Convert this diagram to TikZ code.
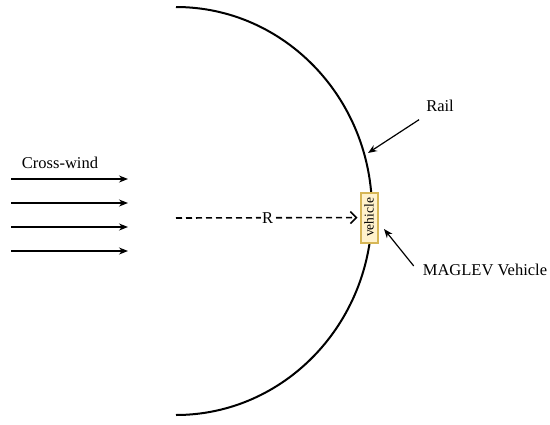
\documentclass[tikz,border=0pt]{standalone}
\usepackage{fontspec}
\setmainfont{Liberation Serif}
\usetikzlibrary{arrows.meta}
\definecolor{vehfill}{HTML}{FFF2CC}
\definecolor{vehdraw}{HTML}{D6B656}

\begin{document}
\begin{tikzpicture}[x=1pt,y=-1pt,
		lbl/.style={font=\fontsize{16.5}{19}\selectfont,inner sep=0pt},
		wind/.style={line width=1.3pt,-{Stealth[length=9pt,width=7pt]}},
		pointer/.style={line width=1.2pt,-{Stealth[length=9pt,width=7pt]}},
		vehicle/.style={draw=vehdraw,fill=vehfill,line width=2pt,inner sep=0pt,
			minimum width=50pt,minimum height=17pt,font=\fontsize{13.5}{15}\selectfont}]
			\useasboundingbox (0,0) rectangle (550,424);
			% rail
			\draw[line width=2pt] (176,7) arc[start angle=90,end angle=-90,x radius=196pt,y radius=204pt];
			% cross wind
			\node[lbl] (windlbl) at (60,163) {Cross-wind};
			\foreach \i/\y in {1/179,2/203,3/227,4/251} {
				\coordinate (ws\i) at (11,\y);
				\coordinate (we\i) at (128,\y);
				\draw[wind] (ws\i) -- (we\i);
			}
			% vehicle on the rail
			\node[vehicle,rotate=90] (veh) at (369,217.5) {vehicle};
			\coordinate (centre) at (176,218);
			\draw[dash pattern=on 6pt off 4pt,line width=1.6pt,shorten >=2pt,-{Straight Barb[length=6pt,width=12pt,line width=1.6pt]}] (centre) -- node[lbl,fill=white,inner sep=1pt] (rlbl) {R} (veh);
			% labels
			\node[lbl] (rail) at (440,106) {Rail};
			\coordinate (railpt) at (368,153);
			\draw[pointer,shorten <=14pt] (rail) -- (railpt);
			\node[lbl] (mag) at (485,270) {MAGLEV Vehicle};
			\coordinate (magpt) at (384,229);
			\draw[pointer] ([shift={(-9,2)}]mag.north west) -- (magpt);
		\end{tikzpicture}
\end{document}
